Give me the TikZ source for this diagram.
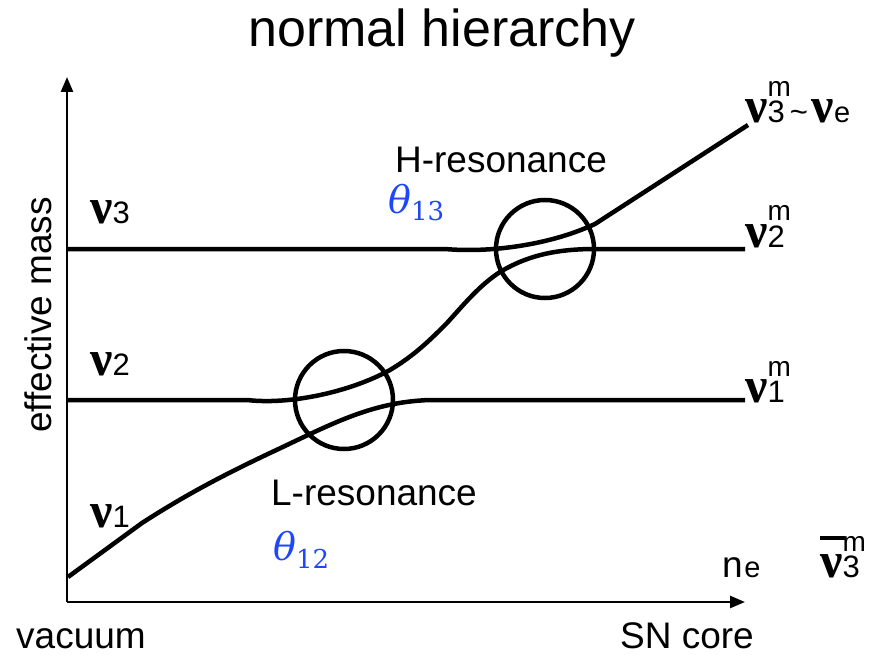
\documentclass[tikz,border=0pt]{standalone}
\usepackage{fontspec}
\setmainfont{Liberation Sans}
\newfontfamily\nufont{Liberation Serif}
\newfontfamily\thfont{DejaVu Serif}
\usetikzlibrary{arrows.meta}
\definecolor{thblue}{RGB}{30,70,250}
\newcommand{\NU}{{\nufont\bfseries\fontsize{50}{50}\selectfont ν}}
\newcommand{\dig}[1]{{\fontsize{31}{31}\selectfont #1}}
\newcommand{\supm}{\rlap{\raisebox{26pt}{\fontsize{28}{28}\selectfont m}}}
\newcommand{\sml}[1]{{\fontsize{29}{29}\selectfont #1}}
\newcommand{\ThetaLab}[1]{{\thfont\itshape\fontsize{38}{38}\selectfont θ}\raisebox{-8pt}{\thfont\fontsize{26}{26}\selectfont #1}}
\begin{document}
\begin{tikzpicture}[x=1pt,y=-1pt,
  curve/.style={line width=4.5pt},
  axis/.style={line width=2.5pt},
  lbl/.style={inner sep=0pt, anchor=base west},
  big/.style={inner sep=0pt, anchor=base, font=\fontsize{37}{40}\selectfont},
  ring/.style={circle, draw, line width=4.5pt, minimum size=98pt, inner sep=0pt}]
\useasboundingbox (0,0) rectangle (883,655);
% axes
\coordinate (O) at (67,602);
\coordinate (Ytip) at (67,77);
\coordinate (Xtip) at (745,602);
\draw[axis,-{Triangle[length=15pt,width=12pt]}] (O) -- (Ytip);
\draw[axis,-{Triangle[length=15pt,width=12pt]}] (O) -- (Xtip);
% resonance circles
\node[ring] (Lres) at (344,400) {};
\node[ring] (Hres) at (545,249) {};
% level coordinates
\coordinate (a1) at (68,577);
\coordinate (a2) at (270,453);
\coordinate (a3) at (430,400);
\coordinate (a4) at (745,400);
\coordinate (b0) at (68,400);
\coordinate (b1) at (247,400);
\coordinate (b2) at (390,370);
\coordinate (b3) at (447,323);
\coordinate (b4) at (500,272);
\coordinate (b5) at (596,249);
\coordinate (b6) at (745,249);
\coordinate (c0) at (68,249);
\coordinate (c1) at (445,249);
\coordinate (c2) at (595,224);
\coordinate (c3) at (748,125);
% nu1 -> nu1^m
\draw[curve] (a1) -- (142,523) .. controls (190,492) and (230,472) .. (a2)
  .. controls (330,425) and (370,402) .. (a3) -- (a4);
% nu2 -> nu2^m
\draw[curve] (b0) -- (b1) .. controls (290,405) and (350,392) .. (b2)
  .. controls (415,355) and (430,340) .. (b3)
  .. controls (465,303) and (480,285) .. (b4)
  .. controls (530,254) and (560,249) .. (b5) -- (b6);
% nu3 -> nu3^m
\draw[curve] (c0) -- (c1) .. controls (490,253) and (550,245) .. (c2) -- (c3);
% texts
\node[inner sep=0pt, anchor=base, font=\fontsize{52}{60}\selectfont] (title) at (442,47) {normal hierarchy};
\node[inner sep=0pt, rotate=90, font=\fontsize{37}{40}\selectfont] (ylab) at (38,315) {effective mass};
\node[big] (hlab) at (501,173) {H-resonance};
\node[big] (llab) at (374,505) {L-resonance};
\node[big] (vac) at (81,648) {vacuum};
\node[big] (sn) at (687,648) {SN core};
\node[lbl, text=thblue] (th13) at (388,213) {\ThetaLab{13}};
\node[lbl, text=thblue] (th12) at (273,560) {\ThetaLab{12}};
\node[lbl] (nu3) at (90,223) {\NU\dig{3}};
\node[lbl] (nu2) at (90,375) {\NU\dig{2}};
\node[lbl] (nu1) at (90,527) {\NU\dig{1}};
\node[lbl] (nu3m) at (745,123) {\NU\supm\dig{3}\hspace{5pt}\dig{\textasciitilde}\hspace{4pt}\NU\sml{e}};
\node[lbl] (nu2m) at (745,247) {\NU\supm\dig{2}};
\node[lbl] (nu1m) at (745,402) {\NU\supm\dig{1}};
\node[lbl] (ne) at (722,577) {{\fontsize{37}{37}\selectfont n}\,\sml{e}};
\node[lbl] (nubar) at (820,577) {\rlap{\raisebox{37pt}{\rule{25pt}{4pt}}}\NU\supm\dig{3}};
\end{tikzpicture}
\end{document}
